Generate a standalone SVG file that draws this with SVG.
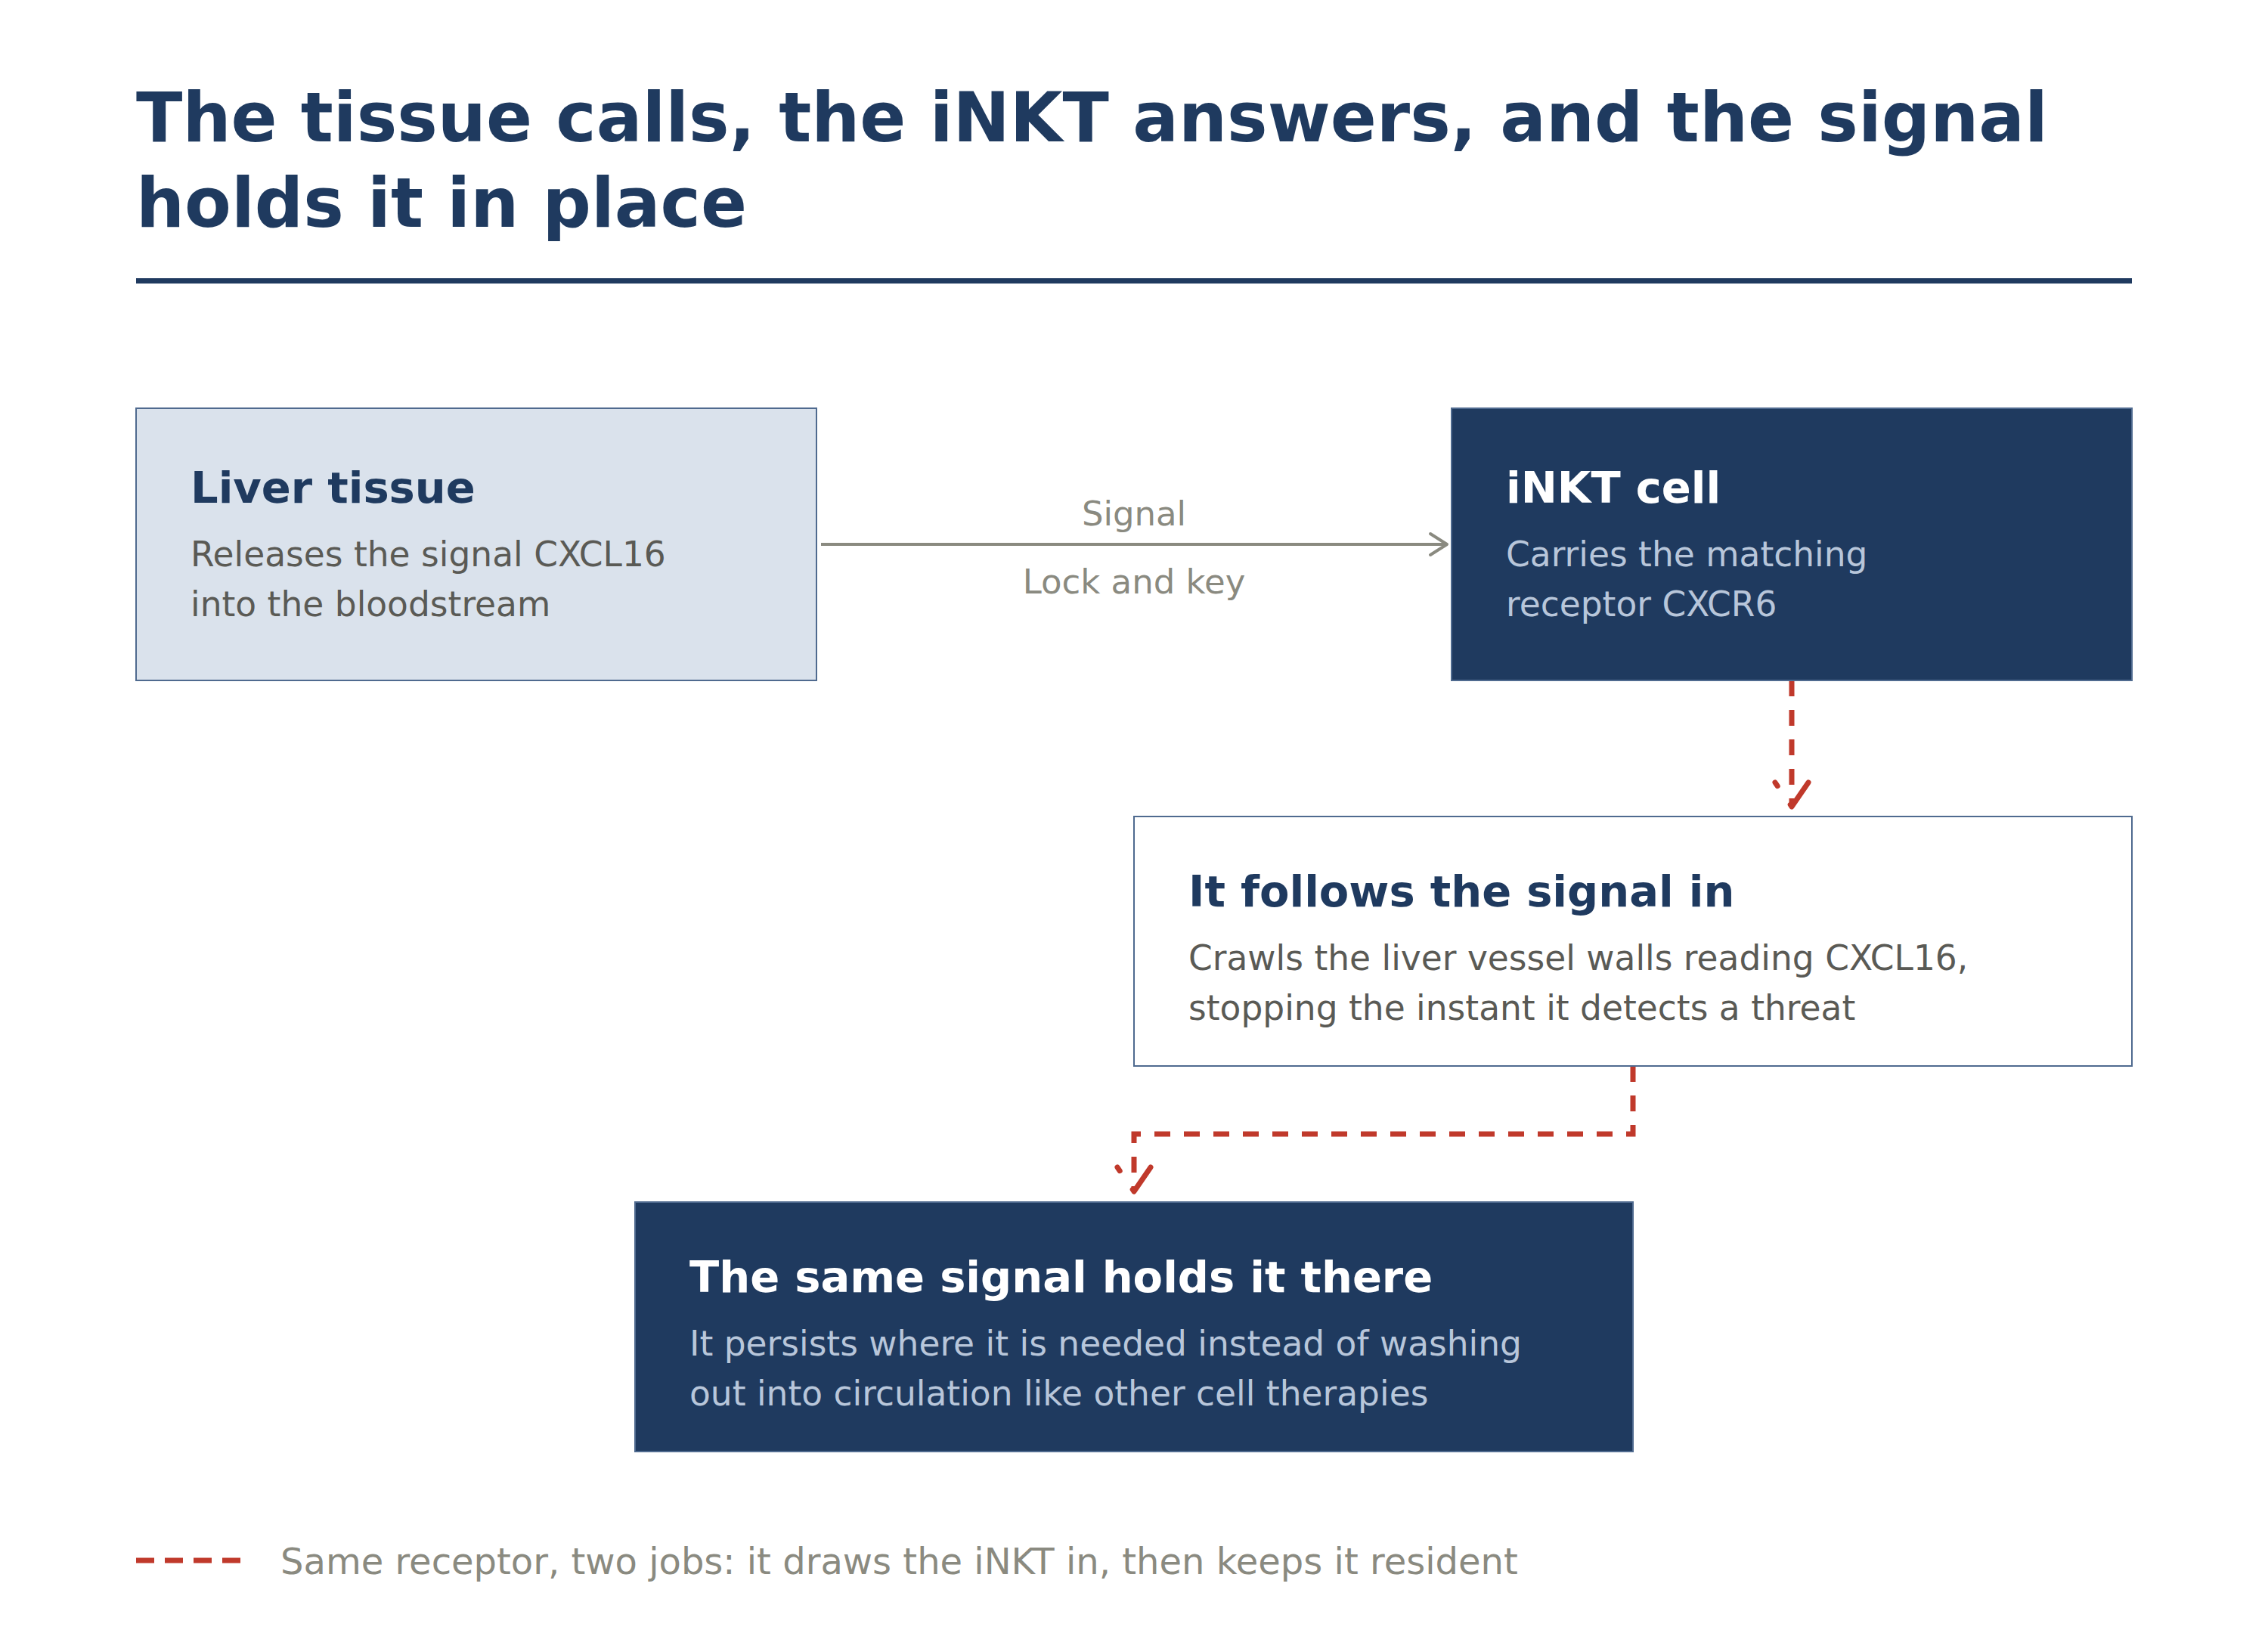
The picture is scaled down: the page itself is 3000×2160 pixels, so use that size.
<svg xmlns="http://www.w3.org/2000/svg" width="3000" height="2160" viewBox="0 0 3000 2160">
<style>
  text { font-family: "DejaVu Sans", "Liberation Sans", sans-serif; }
  .title { font-size: 90px; font-weight: bold; fill: #1f3a5f; }
  .h { font-size: 57.5px; font-weight: bold; }
  .d { font-size: 45.5px; }
  .h-dark { fill: #1f3a5f; }
  .h-light { fill: #ffffff; }
  .d-dark { fill: #5a5a55; }
  .d-light { fill: #b8c6da; }
  .lbl { font-size: 45px; fill: #8a8a80; text-anchor: middle; }
  .legend { font-size: 48px; fill: #8a8a80; }
  .box-light { fill: #dae2ec; stroke: #4f6a8f; stroke-width: 2; }
  .box-white { fill: #ffffff; stroke: #4f6a8f; stroke-width: 2; }
  .box-dark { fill: #1f3a5f; stroke: #4f6a8f; stroke-width: 2; }
  .conn-grey { fill: none; stroke: #8a8a80; stroke-width: 4; }
  .conn-red { fill: none; stroke: #c0392b; stroke-width: 7; stroke-dasharray: 21 18; }
</style>
<defs>
  <marker id="arrowGrey" markerUnits="userSpaceOnUse" markerWidth="40" markerHeight="40" viewBox="-30 -20 40 40" refX="0" refY="0" orient="auto" overflow="visible">
    <path d="M-22,-14 L0,0 L-22,14" fill="none" stroke="#8a8a80" stroke-width="4" stroke-linecap="round" stroke-linejoin="round"/>
  </marker>
  <marker id="arrowRed" markerUnits="userSpaceOnUse" markerWidth="60" markerHeight="60" viewBox="-45 -30 60 60" refX="0" refY="0" orient="auto" overflow="visible">
    <path d="M-32,-22 L0,0 L-32,22" fill="none" stroke="#c0392b" stroke-width="7" stroke-dasharray="42 30" stroke-linecap="round" stroke-linejoin="round"/>
  </marker>
</defs>

<rect x="0" y="0" width="3000" height="2160" fill="#ffffff"/>

<g id="title">
  <text class="title" x="180" y="187">The tissue calls, the iNKT answers, and the signal</text>
  <text class="title" x="180" y="300">holds it in place</text>
  <rect x="180" y="368" width="2640" height="7" fill="#1f3a5f"/>
</g>

<g id="connectors">
  <line class="conn-grey" x1="1086" y1="720" x2="1914" y2="720" marker-end="url(#arrowGrey)"/>
  <text class="lbl" x="1500" y="695">Signal</text>
  <text class="lbl" x="1500" y="785">Lock and key</text>
  <path class="conn-red" d="M2370,900 L2370,1067" marker-end="url(#arrowRed)"/>
  <path class="conn-red" d="M2160,1410 L2160,1500 L1500,1500 L1500,1576" marker-end="url(#arrowRed)"/>
</g>

<g id="node-liver">
  <rect class="box-light" x="180" y="540" width="900" height="360"/>
  <text class="h h-dark" x="252" y="665">Liver tissue</text>
  <text class="d d-dark" x="252" y="749">Releases the signal CXCL16</text>
  <text class="d d-dark" x="252" y="815">into the bloodstream</text>
</g>

<g id="node-inkt">
  <rect class="box-dark" x="1920" y="540" width="900" height="360"/>
  <text class="h h-light" x="1992" y="665">iNKT cell</text>
  <text class="d d-light" x="1992" y="749">Carries the matching</text>
  <text class="d d-light" x="1992" y="815">receptor CXCR6</text>
</g>

<g id="node-follows">
  <rect class="box-white" x="1500" y="1080" width="1320" height="330"/>
  <text class="h h-dark" x="1572" y="1199">It follows the signal in</text>
  <text class="d d-dark" x="1572" y="1283">Crawls the liver vessel walls reading CXCL16,</text>
  <text class="d d-dark" x="1572" y="1349">stopping the instant it detects a threat</text>
</g>

<g id="node-holds">
  <rect class="box-dark" x="840" y="1590" width="1320" height="330"/>
  <text class="h h-light" x="912" y="1709">The same signal holds it there</text>
  <text class="d d-light" x="912" y="1793">It persists where it is needed instead of washing</text>
  <text class="d d-light" x="912" y="1859">out into circulation like other cell therapies</text>
</g>

<g id="legend">
  <line x1="180" y1="2064" x2="318" y2="2064" stroke="#c0392b" stroke-width="7" stroke-dasharray="24 14"/>
  <text class="legend" x="371" y="2082">Same receptor, two jobs: it draws the iNKT in, then keeps it resident</text>
</g>
</svg>
